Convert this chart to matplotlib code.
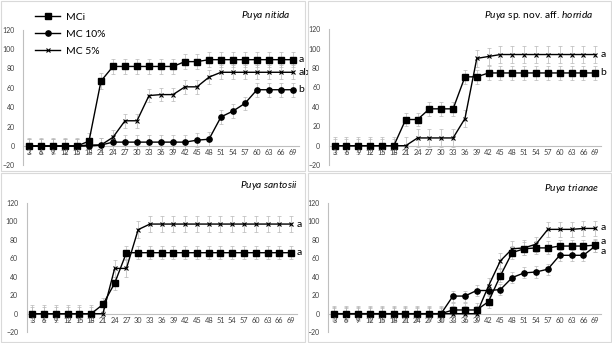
import numpy as np
import matplotlib
matplotlib.use("Agg")
import matplotlib.pyplot as plt
from matplotlib.patches import Rectangle

plt.rcParams["font.family"] = ["Lato", "DejaVu Sans"]
plt.rcParams["mathtext.fontset"] = "custom"
plt.rcParams["mathtext.it"] = "Lato:italic"
plt.rcParams["mathtext.rm"] = "Lato"

# ------------------------------------------------------------
# germination (%) by day, per species and treatment
# ------------------------------------------------------------
days = [3, 6, 9, 12, 15, 18, 21, 24, 27, 30, 33, 36, 39, 42, 45, 48, 51, 54, 57, 60, 63, 66, 69]

nitida_mci  = [0, 0, 0, 0, 0, 5, 67, 82, 82, 82, 82, 82, 82, 87, 87, 89, 89, 89, 89, 89, 89, 89, 89]
nitida_mc10 = [0, 0, 0, 0, 0, 0, 1, 4, 4, 4, 4, 4, 4, 4, 6, 7, 30, 36, 44, 58, 58, 58, 58]
nitida_mc5  = [0, 0, 0, 0, 0, 1, 1, 9, 26, 26, 52, 53, 53, 61, 61, 71, 76, 76, 76, 76, 76, 76, 76]

horrida_mci = [0, 0, 0, 0, 0, 0, 27, 27, 38, 38, 38, 71, 71, 75, 75, 75, 75, 75, 75, 75, 75, 75, 75]
horrida_mc5 = [0, 0, 0, 0, 0, 0, 0, 8, 8, 8, 8, 28, 90, 92, 94, 94, 94, 94, 94, 94, 94, 94, 94]

santosii_mci = [0, 0, 0, 0, 0, 0, 10, 33, 66, 66, 66, 66, 66, 66, 66, 66, 66, 66, 66, 66, 66, 66, 66]
santosii_mc5 = [0, 0, 0, 0, 0, 0, 0, 49, 49, 91, 97, 97, 97, 97, 97, 97, 97, 97, 97, 97, 97, 97, 97]

trianae_mci  = [0, 0, 0, 0, 0, 0, 0, 0, 0, 0, 4, 4, 4, 13, 41, 66, 70, 71, 71, 73, 73, 73, 74]
trianae_mc10 = [0, 0, 0, 0, 0, 0, 0, 0, 0, 0, 19, 19, 25, 25, 26, 39, 44, 45, 48, 63, 63, 63, 73]
trianae_mc5  = [0, 0, 0, 0, 0, 0, 0, 0, 0, 0, 0, 0, 0, 30, 57, 70, 71, 75, 91, 91, 91, 92, 92]

# standard error (one value per series)
nitida_se   = {"MCi": 8, "MC 10%": 7, "MC 5%": 7}
horrida_se  = {"MCi": 7, "MC 5%": 9}
santosii_se = {"MCi": 7, "MC 5%": 9}
trianae_se  = {"MCi": 7, "MC 10%": 6, "MC 5%": 8}

# significance letters and where they sit on the y axis
nitida_letters   = [("a", 89), ("ab", 76), ("b", 58)]
horrida_letters  = [("a", 94), ("b", 75)]
santosii_letters = [("a", 97), ("a", 66)]
trianae_letters  = [("a", 93), ("a", 78), ("a", 67)]

STYLE = {
    "MCi":    dict(marker="s", ms=4.2, mfc="black", mec="black"),
    "MC 10%": dict(marker="o", ms=3.8, mfc="black", mec="black"),
    "MC 5%":  dict(marker="x", ms=3.0, mew=0.8, mfc="black", mec="black"),
}

W, H = 612, 343
fig = plt.figure(figsize=(W / 100, H / 100), dpi=100)


def frac_box(x0, y0, x1, y1):
    return [x0 / W, 1 - y1 / H, (x1 - x0) / W, (y1 - y0) / H]


# light chart borders
for (x0, y0, x1, y1) in [(1, 1, 305, 171), (308, 1, 611, 171),
                         (1, 173, 305, 342), (308, 173, 611, 342)]:
    fig.patches.append(Rectangle((x0 / W, 1 - y1 / H), (x1 - x0) / W, (y1 - y0) / H,
                                 transform=fig.transFigure, fill=False,
                                 ec="#d9d9d9", lw=0.8))


def draw_panel(box, series, se, letters, title, title_xy):
    ax = fig.add_axes(frac_box(*box))
    idx = np.arange(len(days))
    handles = []
    for name, vals in series:
        ax.errorbar(idx, vals, yerr=se[name], fmt="none", ecolor="#b8b8b8",
                    elinewidth=0.5, capsize=1.6, capthick=0.5, zorder=1)
        h, = ax.plot(idx, vals, color="black", lw=1.0, label=name, zorder=3,
                     **STYLE[name])
        handles.append(h)
    ax.set_xlim(-0.5, len(days) - 0.5)
    ax.set_ylim(-20, 120)
    ax.set_yticks(range(-20, 121, 20))
    ax.set_xticks(idx)
    ax.set_xticklabels([str(d) for d in days])
    ax.tick_params(axis="both", length=0, labelsize=5, colors="#404040", pad=1.5)
    ax.tick_params(axis="x", labelsize=5.3, pad=2.5)
    ax.tick_params(axis="y", pad=6)
    # tick labels sit over the error bars
    ax.xaxis.set_zorder(4)
    for side in ("top", "right"):
        ax.spines[side].set_visible(False)
    ax.spines["bottom"].set_position(("data", 0))
    ax.spines["bottom"].set_color("#bfbfbf")
    ax.spines["left"].set_color("#bfbfbf")
    ax.spines["bottom"].set_linewidth(0.8)
    ax.spines["left"].set_linewidth(0.8)
    ax.spines["bottom"].set_zorder(2)
    for lab, yv in letters:
        ax.text(len(days) - 1 + 0.45, yv, lab, fontsize=7.5, va="center",
                ha="left", clip_on=False)
    fig.text(title_xy[0] / W, 1 - title_xy[1] / H, title, fontsize=7.3,
             ha="right", va="center")
    return ax, handles


ax1, h1 = draw_panel((23, 29.6, 299, 165.4),
                     [("MCi", nitida_mci), ("MC 10%", nitida_mc10), ("MC 5%", nitida_mc5)],
                     nitida_se, nitida_letters,
                     r"$\mathit{Puya\ nitida}$", (290, 16))
fig.legend(handles=h1, loc="upper left", bbox_to_anchor=(30 / W, 1 - 7 / H),
           frameon=False, fontsize=7.5, handlelength=2.4, handletextpad=0.6,
           labelspacing=0.75, borderpad=0)

draw_panel((328.7, 29.3, 601.2, 165.1),
           [("MCi", horrida_mci), ("MC 5%", horrida_mc5)],
           horrida_se, horrida_letters,
           r"$\mathit{Puya}$ sp. nov. aff. $\mathit{horrida}$", (593, 15))

draw_panel((26.5, 202.8, 296.9, 332.2),
           [("MCi", santosii_mci), ("MC 5%", santosii_mc5)],
           santosii_se, santosii_letters,
           r"$\mathit{Puya\ santosii}$", (298, 185))

draw_panel((328.4, 202.5, 601.2, 332.2),
           [("MCi", trianae_mci), ("MC 10%", trianae_mc10), ("MC 5%", trianae_mc5)],
           trianae_se, trianae_letters,
           r"$\mathit{Puya\ trianae}$", (599, 189))

fig.savefig("out.png", dpi=100)
